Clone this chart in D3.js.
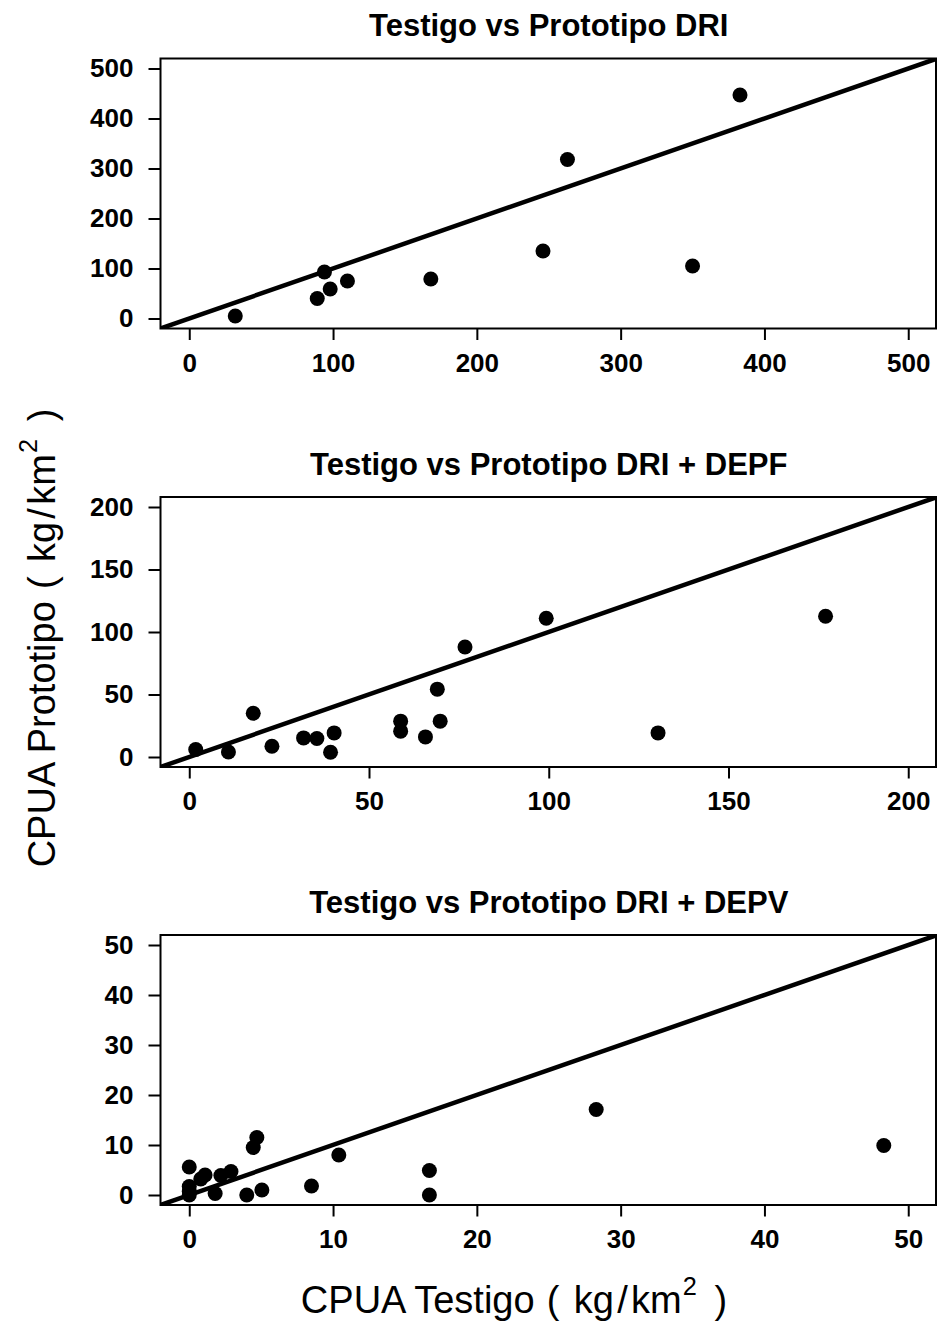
<!DOCTYPE html>
<html><head><meta charset="utf-8">
<script src="https://cdn.jsdelivr.net/npm/d3@7"></script>
<style>html,body{margin:0;padding:0;background:#fff;}</style>
</head><body>
<script>
// ---- data ----
const titles = ["Testigo vs Prototipo DRI", "Testigo vs Prototipo DRI + DEPF", "Testigo vs Prototipo DRI + DEPV"];
const limits = [500, 200, 50];
const ticks1 = [0, 100, 200, 300, 400, 500];
const ticks2 = [0, 50, 100, 150, 200];
const ticks3 = [0, 10, 20, 30, 40, 50];

const driTestigo = [32, 89, 94, 98, 110, 168, 246, 263, 350, 383];
const driProto   = [5, 40, 93, 59, 75, 79, 135, 318, 105, 447];

const depfTestigo = [1.8, 10.9, 17.8, 23, 31.8, 35.5, 39.3, 40.3, 58.8, 58.8, 65.7, 69, 69.8, 76.7, 99.3, 130.4, 177];
const depfProto   = [6, 4, 35, 8.6, 15.3, 14.8, 3.8, 19.3, 28.7, 20.7, 16.1, 54.3, 28.7, 88, 111, 19.3, 112.6];

const depvTestigo = [0, 0, 0, 0, 0.8, 1.1, 1.8, 2.2, 2.9, 4.0, 4.45, 4.7, 5.05, 8.5, 10.4, 16.7, 16.7, 28.3, 48.3];
const depvProto   = [5.6, 1.7, 0.7, 0, 3.2, 4.0, 0.3, 3.9, 4.7, 0, 9.5, 11.5, 1.0, 1.8, 8.0, 4.9, 0, 17.1, 9.9];

const xLabelMain = "CPUA Testigo";
const yLabelMain = "CPUA Prototipo";

const panels = [
  {title: titles[0], lim: limits[0], ticks: ticks1, x: driTestigo, y: driProto},
  {title: titles[1], lim: limits[1], ticks: ticks2, x: depfTestigo, y: depfProto},
  {title: titles[2], lim: limits[2], ticks: ticks3, x: depvTestigo, y: depvProto}
];

// ---- layout ----
const W = 937, H = 1326;
const left = 160.5, right = 937;
const tops = [58.5, 497, 935];
const ph = 270;
const FONT = "'Liberation Sans', Arial, sans-serif";

const svg = d3.select("body").append("svg").attr("width", W).attr("height", H)
  .style("font-family", FONT);

panels.forEach((p, i) => {
  const top = tops[i], bottom = top + ph;
  const ext = p.lim * 0.04;
  const x = d3.scaleLinear().domain([-ext, p.lim + ext]).range([left, right]);
  const y = d3.scaleLinear().domain([-ext, p.lim + ext]).range([bottom, top]);
  const g = svg.append("g");

  const clipId = "clip" + i;
  g.append("clipPath").attr("id", clipId).append("rect")
    .attr("x", left).attr("y", top).attr("width", right - left).attr("height", ph);

  g.append("text").attr("x", (left + right) / 2).attr("y", top - 22.5)
    .attr("text-anchor", "middle").attr("font-weight", "bold").attr("font-size", 31)
    .text(p.title);

  const xa = d3.axisBottom(x).tickValues(p.ticks).tickSize(11.5).tickPadding(7).tickFormat(d3.format("d"));
  const ya = d3.axisLeft(y).tickValues(p.ticks).tickSize(12).tickPadding(15).tickFormat(d3.format("d"));
  const gx = g.append("g").attr("transform", `translate(0,${bottom})`).call(xa);
  const gy = g.append("g").attr("transform", `translate(${left},0)`).call(ya);
  [gx, gy].forEach(a => {
    a.select(".domain").remove();
    a.selectAll(".tick line").attr("stroke", "#000").attr("stroke-width", 2);
    a.selectAll(".tick text").attr("fill", "#000").attr("font-size", 26).attr("font-weight", "bold")
      .attr("font-family", FONT);
  });
  gx.selectAll(".tick text").attr("dy", "0.95em");

  g.append("rect").attr("x", left).attr("y", top).attr("width", right - left - 1).attr("height", ph)
    .attr("fill", "none").attr("stroke", "#000").attr("stroke-width", 2);

  g.append("line").attr("clip-path", `url(#${clipId})`)
    .attr("x1", x(-ext)).attr("y1", y(-ext)).attr("x2", x(p.lim + ext)).attr("y2", y(p.lim + ext))
    .attr("stroke", "#000").attr("stroke-width", 4.5);

  g.selectAll("circle.pt").data(p.x.map((v, k) => [v, p.y[k]])).enter()
    .append("circle").attr("class", "pt")
    .attr("cx", d => x(d[0])).attr("cy", d => y(d[1])).attr("r", 7.5).attr("fill", "#000");
});

// axis labels (plotmath-like spacing): pieces placed one after the other
function axisLabel(gSel, main) {
  const fs = 38, k = fs / 34.5;
  const pieces = [
    {t: main, gap: 0},
    {t: "(", gap: 11},
    {t: "kg", gap: 13},
    {t: "/", gap: 3},
    {t: "km", gap: 3},
    {t: "2", gap: 1, sup: true},
    {t: ")", gap: 16}
  ];
  let cx = 0;
  pieces.forEach(pc => {
    cx += pc.gap * k;
    const t = gSel.append("text").attr("x", cx).attr("y", pc.sup ? -16 * k : 0)
      .attr("font-size", pc.sup ? 23 * k : fs).text(pc.t);
    cx += t.node().getComputedTextLength();
  });
  return cx;
}
const gxl = svg.append("g");
const wx = axisLabel(gxl, xLabelMain);
gxl.attr("transform", `translate(${514 - wx / 2},1313)`);
const gyl = svg.append("g");
const wy = axisLabel(gyl, yLabelMain);
gyl.attr("transform", `translate(55,${638 + wy / 2}) rotate(-90)`);
</script>
</body></html>
